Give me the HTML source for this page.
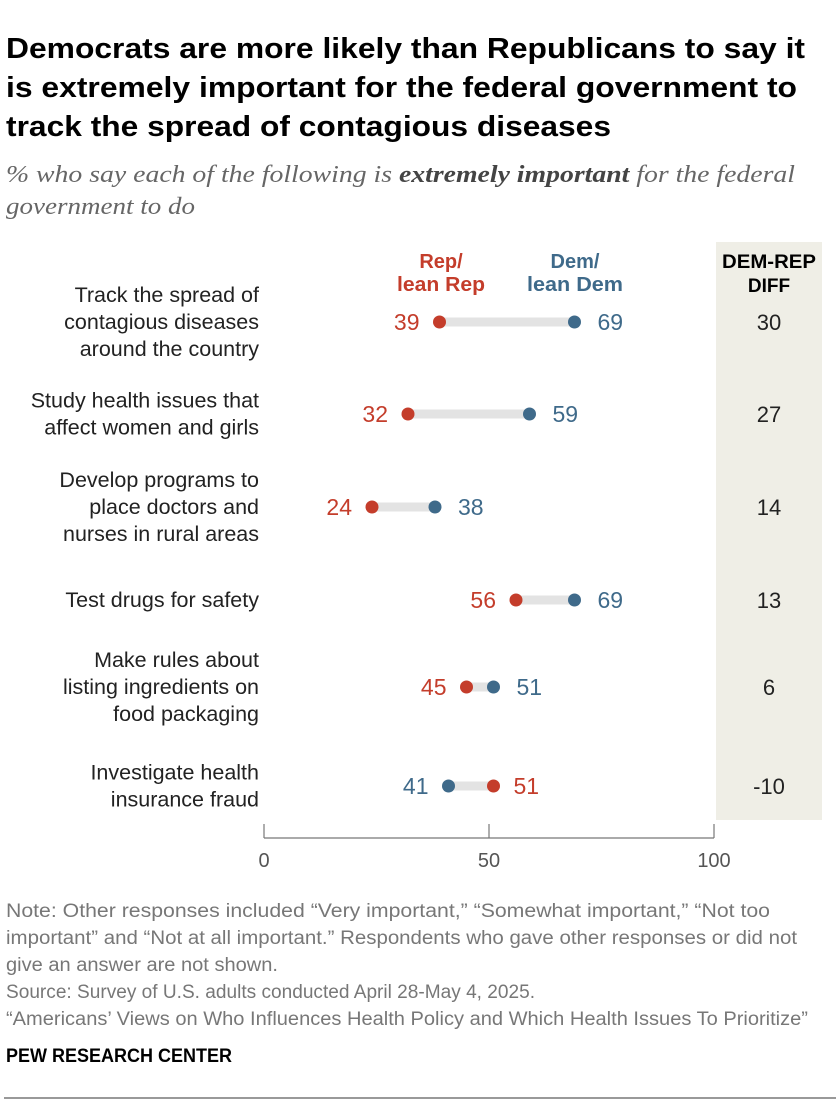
<!DOCTYPE html>
<html><head><meta charset="utf-8"><style>
body{margin:0;background:#fff;width:840px;height:1106px;overflow:hidden;font-family:"Liberation Sans",sans-serif}
</style></head><body>
<svg width="840" height="1106" viewBox="0 0 840 1106" xmlns="http://www.w3.org/2000/svg" font-family="Liberation Sans, sans-serif">
<g font-size="29" font-weight="bold" fill="#000" lengthAdjust="spacingAndGlyphs">
<text x="6" y="58" textLength="799" lengthAdjust="spacingAndGlyphs">Democrats are more likely than Republicans to say it</text>
<text x="6" y="97" textLength="791" lengthAdjust="spacingAndGlyphs">is extremely important for the federal government to</text>
<text x="6" y="136" textLength="605" lengthAdjust="spacingAndGlyphs">track the spread of contagious diseases</text>
</g>
<g font-family="Liberation Serif, serif" font-style="italic" font-size="24" fill="#666">
<text x="6" y="182" textLength="789" lengthAdjust="spacingAndGlyphs">% who say each of the following is <tspan font-weight="bold" fill="#444">extremely important</tspan> for the federal</text>
<text x="6" y="214" textLength="189" lengthAdjust="spacingAndGlyphs">government to do</text>
</g>
<rect x="716" y="242" width="106" height="578" fill="#efeee6"/>
<g font-size="19" font-weight="bold" text-anchor="middle">
<text x="769" y="268" textLength="94" lengthAdjust="spacingAndGlyphs">DEM-REP</text><text x="769" y="292">DIFF</text>
</g>
<g font-size="20" font-weight="bold" text-anchor="middle">
<text x="441" y="268" fill="#c43d2b">Rep/</text><text x="441" y="291" fill="#c43d2b" textLength="88" lengthAdjust="spacingAndGlyphs">lean Rep</text>
<text x="575" y="268" fill="#3f6a8a">Dem/</text><text x="575" y="291" fill="#3f6a8a" textLength="96" lengthAdjust="spacingAndGlyphs">lean Dem</text>
</g>
<g id="rows"></g>
<g id="axis" stroke="#777" stroke-width="1.2" fill="none"></g>
<g font-size="19" fill="#777">
<text x="6" y="917" textLength="764" lengthAdjust="spacingAndGlyphs">Note: Other responses included “Very important,” “Somewhat important,” “Not too</text>
<text x="6" y="944" textLength="791" lengthAdjust="spacingAndGlyphs">important” and “Not at all important.” Respondents who gave other responses or did not</text>
<text x="6" y="971" textLength="272" lengthAdjust="spacingAndGlyphs">give an answer are not shown.</text>
<text x="6" y="998" textLength="529" lengthAdjust="spacingAndGlyphs">Source: Survey of U.S. adults conducted April 28-May 4, 2025.</text>
<text x="6" y="1025" textLength="802" lengthAdjust="spacingAndGlyphs">“Americans’ Views on Who Influences Health Policy and Which Health Issues To Prioritize”</text>
</g>
<text x="6" y="1062" font-size="19" font-weight="bold" fill="#000" textLength="226" lengthAdjust="spacingAndGlyphs">PEW RESEARCH CENTER</text>
<rect x="4" y="1097" width="832" height="2" fill="#999"/>
</svg>
<script>
const labels=[["Track the spread of","contagious diseases","around the country"],["Study health issues that","affect women and girls"],["Develop programs to","place doctors and","nurses in rural areas"],["Test drugs for safety"],["Make rules about","listing ingredients on","food packaging"],["Investigate health","insurance fraud"]];
const repValues=[39,32,24,56,45,51];
const demValues=[69,59,38,69,51,41];
const diffValues=["30","27","14","13","6","-10"];
const tickValues=[0,50,100];
const rowY=[322,414,507,600,687,786];
const NS="http://www.w3.org/2000/svg";
const x=v=>264+v*4.5;
function mk(t,a,p){const e=document.createElementNS(NS,t);for(const k in a)e.setAttribute(k,a[k]);p.appendChild(e);return e;}
const rows=document.getElementById('rows');
labels.forEach((lab,i)=>{
 const g=mk('g',{},rows);
 
 
 const y=rowY[i],n=lab.length;
 lab.forEach((l,j)=>{const t=mk('text',{x:259,y:y+7+(j-(n-1)/2)*27,'text-anchor':'end','font-size':21.5,fill:'#222'},g);t.textContent=l;
 
 });
 const r=repValues[i],d=demValues[i];
 const bar=mk('line',{x1:x(Math.min(r,d)),x2:x(Math.max(r,d)),y1:y,y2:y,stroke:'#e3e3e3','stroke-width':9},g);
 
 
 const rc=mk('circle',{cx:x(r),cy:y,r:6.5,fill:'#c43d2b'},g);
 
 
 const dc=mk('circle',{cx:x(d),cy:y,r:6.5,fill:'#3f6a8a'},g);
 
 
 const rl=r<d;
 const rt=mk('text',{x:x(r)+(rl?-20:20),y:y+8,'text-anchor':rl?'end':'start','font-size':23,fill:'#c43d2b'},g);rt.textContent=r;
 
 
 const dt=mk('text',{x:x(d)+(rl?23:-20),y:y+8,'text-anchor':rl?'start':'end','font-size':23,fill:'#3f6a8a'},g);dt.textContent=d;
 
 
 const df=mk('text',{x:769,y:y+8,'text-anchor':'middle','font-size':22,fill:'#222'},g);df.textContent=diffValues[i];
 
 
});
const ax=document.getElementById('axis');
mk('line',{x1:x(0),x2:x(100),y1:838,y2:838},ax);
tickValues.forEach(v=>{const l=mk('line',{x1:x(v),x2:x(v),y1:824,y2:838},ax);
 
 
 const t=mk('text',{x:x(v),y:867,'text-anchor':'middle','font-size':20,fill:'#555',stroke:'none'},ax);t.textContent=v;
 
 });
</script>
</body></html>
